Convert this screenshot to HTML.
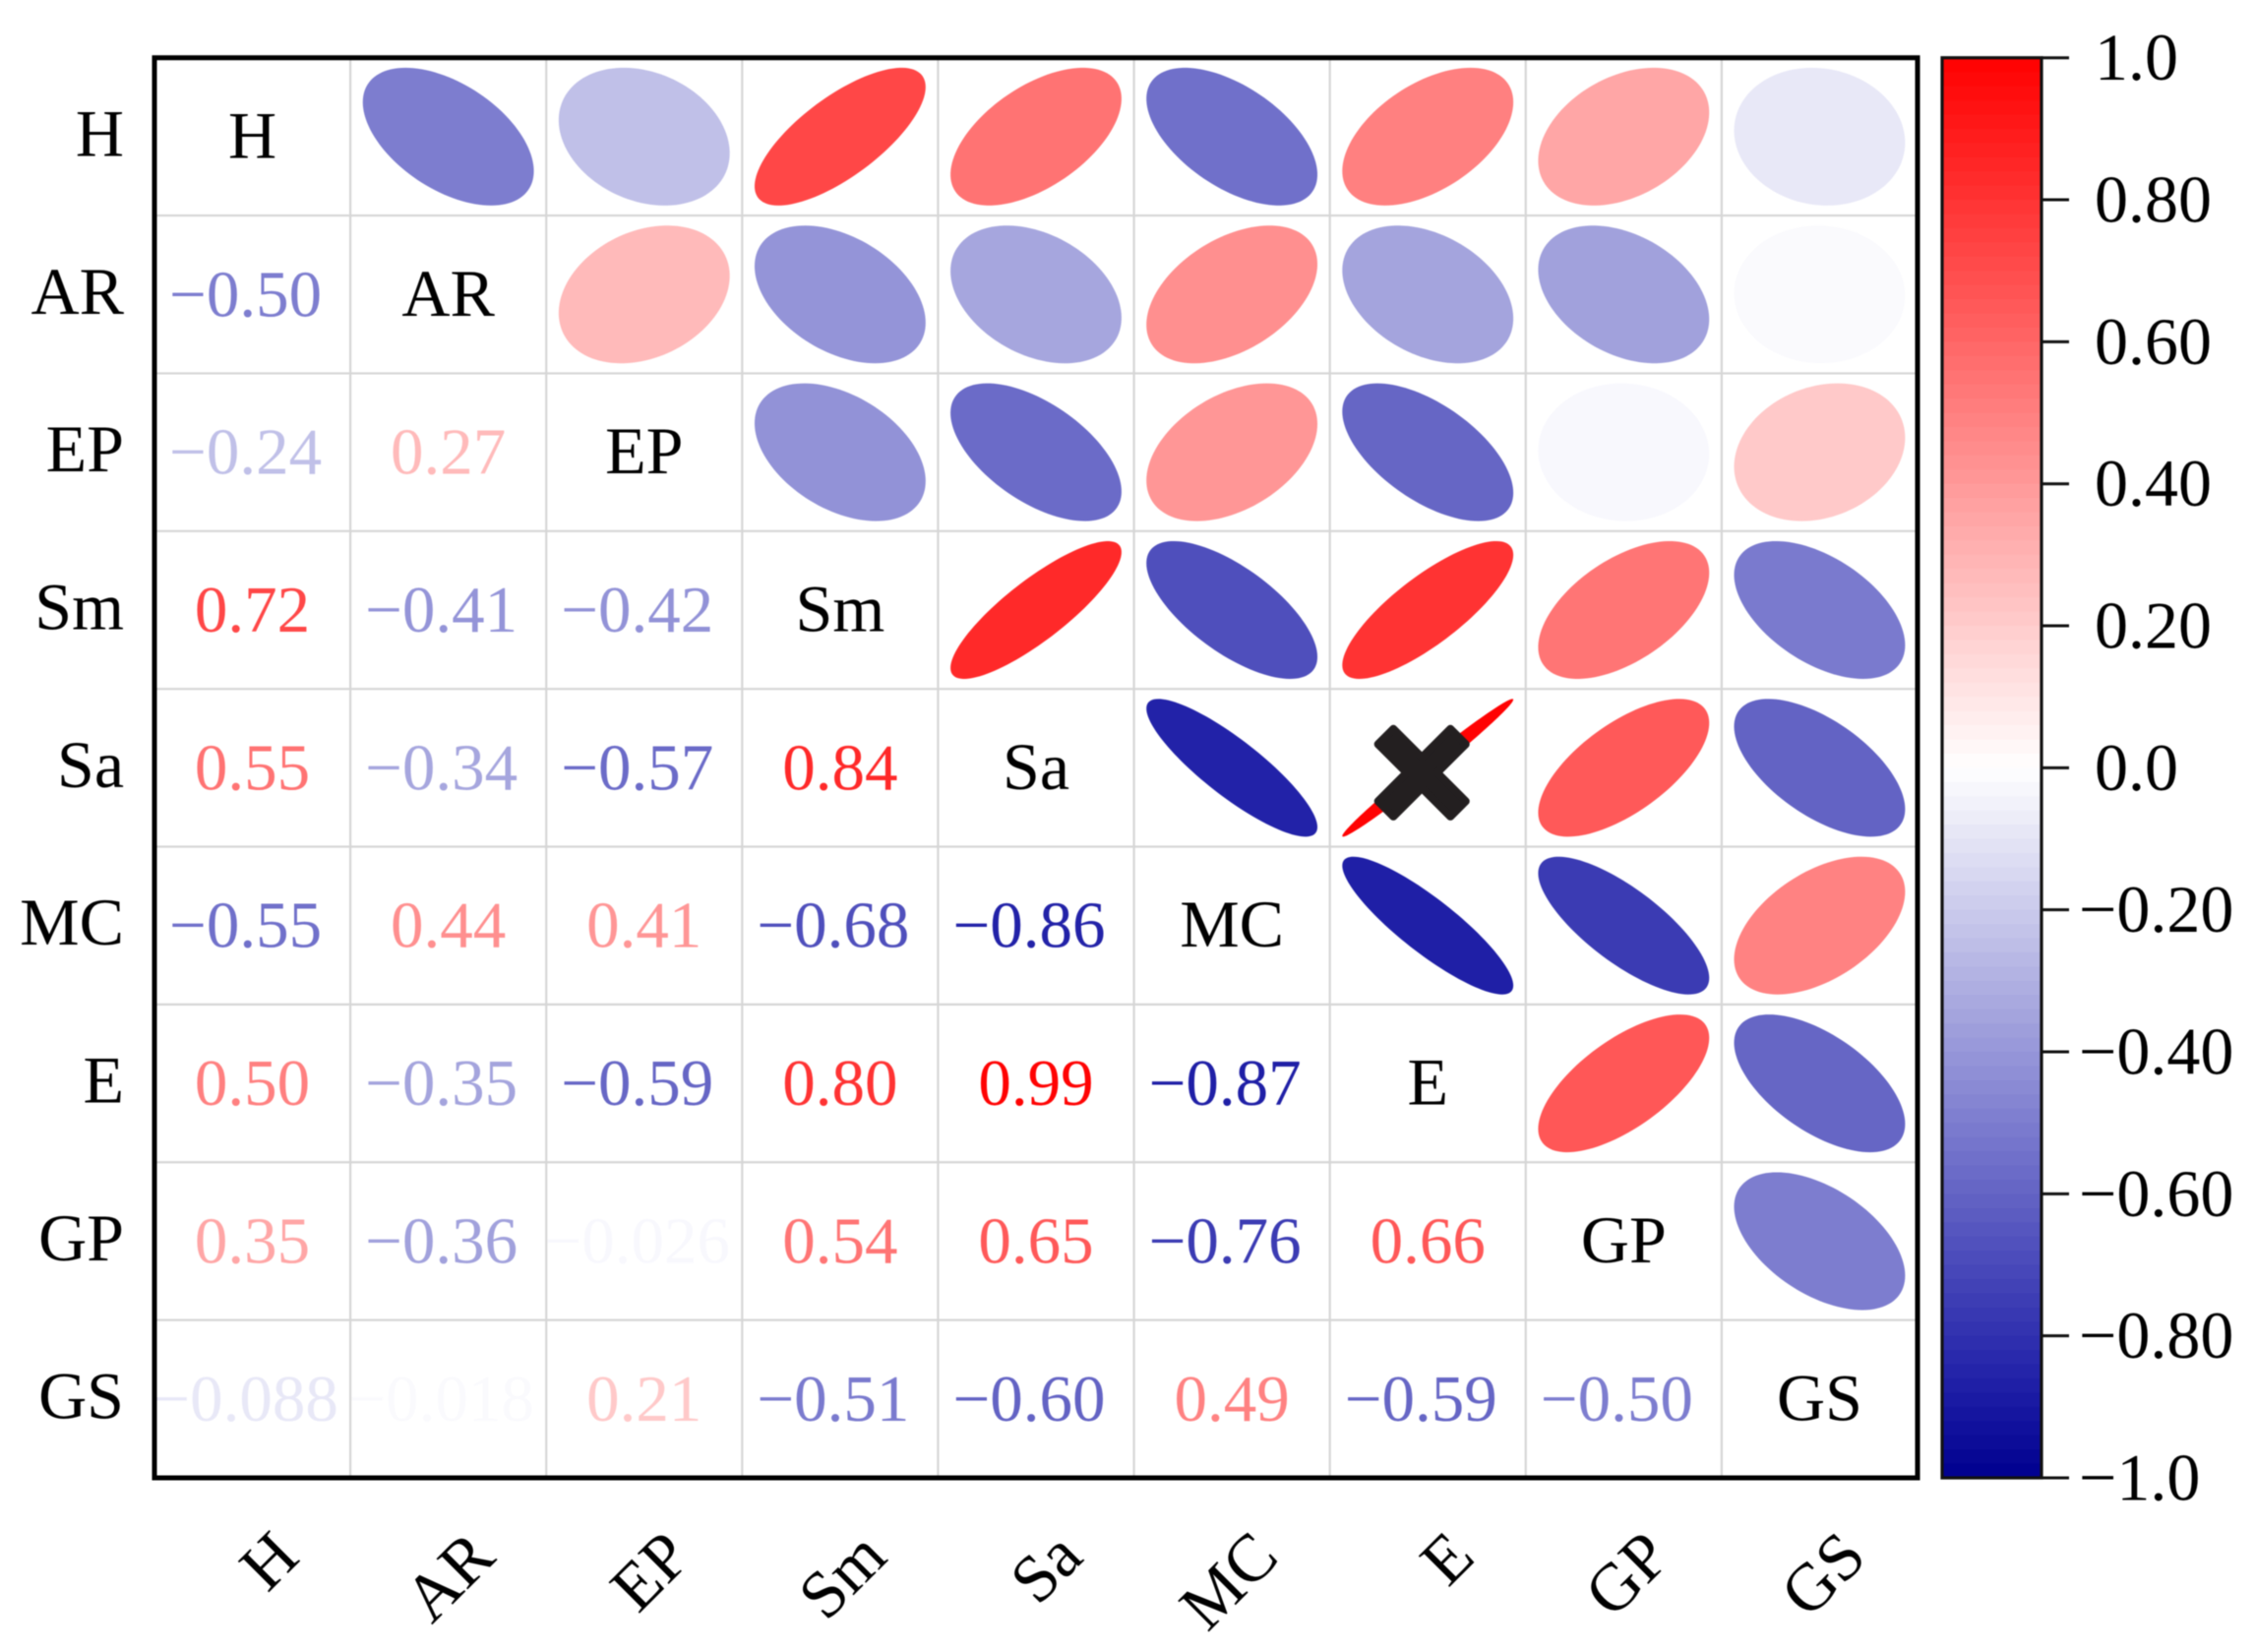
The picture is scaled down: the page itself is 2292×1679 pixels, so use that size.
<!DOCTYPE html>
<html lang="en">
<head>
<meta charset="utf-8">
<title>Correlation matrix</title>
<style>
html,body{margin:0;padding:0;background:#fff;width:2292px;height:1679px;overflow:hidden}
svg{display:block;filter:blur(0.5px)}
text{font-family:"Liberation Serif","Times New Roman",serif;font-size:68px}
</style>
</head>
<body>
<svg id="chart" xmlns="http://www.w3.org/2000/svg" width="2292" height="1679" viewBox="0 0 2292 1679"></svg>
<script>
// ---- data ----
const variables = ['H','AR','EP','Sm','Sa','MC','E','GP','GS'];
const rowAR = [-0.50];
const rowEP = [-0.24, 0.27];
const rowSm = [0.72, -0.41, -0.42];
const rowSa = [0.55, -0.34, -0.57, 0.84];
const rowMC = [-0.55, 0.44, 0.41, -0.68, -0.86];
const rowE  = [0.50, -0.35, -0.59, 0.80, 0.99, -0.87];
const rowGP = [0.35, -0.36, -0.026, 0.54, 0.65, -0.76, 0.66];
const rowGS = [-0.088, -0.018, 0.21, -0.51, -0.60, 0.49, -0.59, -0.50];
const lowerTriangle = [[], rowAR, rowEP, rowSm, rowSa, rowMC, rowE, rowGP, rowGS];
const colorbarTicks = [1.0, 0.8, 0.6, 0.4, 0.2, 0.0, -0.2, -0.4, -0.6, -0.8, -1.0];
const colorbarTickLabels = ['1.0','0.80','0.60','0.40','0.20','0.0','\u22120.20','\u22120.40','\u22120.60','\u22120.80','\u22121.0'];
const flaggedCell = {row: 'Sa', col: 'E'};

// ---- layout ----
const NS = 'http://www.w3.org/2000/svg';
const svg = document.getElementById('chart');
const plotL = 157, plotR = 1949, plotT = 58.7, plotB = 1502;
const cbL = 1974, cbR = 2075;
const n = variables.length;
const cw = (plotR - plotL) / n, ch = (plotB - plotT) / n;
const xAt = i => plotL + cw * i;
const yAt = i => plotT + ch * i;
const cbY = v => plotT + (1 - v) / 2 * (plotB - plotT);

function make(tag, attrs, parent) {
  const e = document.createElementNS(NS, tag);
  for (const k in attrs) e.setAttribute(k, attrs[k]);
  (parent || svg).appendChild(e);
  return e;
}
function lerp(a, b, t) { return a + (b - a) * t; }
const blueStops = [[-1, 143], [-0.86, 168], [-0.8, 175], [-0.5, 207], [0, 255]];
function colorOf(v) {
  v = Math.max(-1, Math.min(1, v));
  if (v >= 0) {
    const g = Math.round(255 * (1 - v));
    return `rgb(255,${g},${g})`;
  }
  const rg = Math.round(255 * Math.pow(1 + v, 1.03));
  let b = 255;
  for (let i = 0; i < blueStops.length - 1; i++) {
    const [a0, c0] = blueStops[i], [a1, c1] = blueStops[i + 1];
    if (v >= a0 && v <= a1) b = lerp(c0, c1, (v - a0) / (a1 - a0));
  }
  return `rgb(${rg},${rg},${Math.round(b)})`;
}
function valueAt(r, c) {
  if (r === c) return null;
  return r > c ? lowerTriangle[r][c] : lowerTriangle[c][r];
}
function formatValue(v) {
  const s = Math.abs(v) < 0.1 ? Math.abs(v).toFixed(3) : Math.abs(v).toFixed(2);
  return (v < 0 ? '\u2212' : '') + s;
}
function ellipsePath(cx, cy, rx, ry, r) {
  const d = Math.acos(Math.max(-1, Math.min(1, r)));
  let p = '';
  for (let k = 0; k < 120; k++) {
    const t = k / 120 * 2 * Math.PI;
    const x = cx + rx * Math.cos(t + d / 2);
    const y = cy - ry * Math.cos(t - d / 2);
    p += (k ? 'L' : 'M') + x.toFixed(2) + ' ' + y.toFixed(2);
  }
  return p + 'Z';
}

// ---- background ----
const bg = make('rect', {x: 0, y: 0, width: 2292, height: 1679, fill: '#ffffff'});



// ---- grid ----
for (let i = 1; i < n; i++) {
  const vl = make('line', {x1: xAt(i), x2: xAt(i), y1: plotT, y2: plotB, stroke: '#d6d6d6', 'stroke-width': 2.2});
  
  
  const hl = make('line', {x1: plotL, x2: plotR, y1: yAt(i), y2: yAt(i), stroke: '#d6d6d6', 'stroke-width': 2.2});
  
  
}

// ---- cells ----
for (let r = 0; r < n; r++) {
  for (let c = 0; c < n; c++) {
    const cx = xAt(c) + cw / 2, cy = yAt(r) + ch / 2;
    const v = valueAt(r, c);
    if (r === c) {
      const t = make('text', {x: cx, y: cy + 21.5, 'text-anchor': 'middle', fill: '#000'});
      t.textContent = variables[r];
      
      
    } else if (r > c) {
      const t = make('text', {x: cx + (v < 0 ? -7 : 0), y: cy + 22, 'text-anchor': 'middle', fill: colorOf(v), style: 'font-size:67px'});
      t.textContent = formatValue(v);
      
      
    } else {
      const p = make('path', {d: ellipsePath(cx, cy, cw * 0.873 / 2, ch * 0.873 / 2, v), fill: colorOf(v)});
      
      
    }
  }
}

// ---- flagged X mark ----
{
  const col = variables.indexOf(flaggedCell.col), row = variables.indexOf(flaggedCell.row);
  const mx = xAt(col) + cw / 2 - 6, my = yAt(row) + ch / 2 + 5;
  const a = 11, L = 52, s = Math.SQRT1_2;
  const pts = [[a, a + 0], [L, a], [L, -a], [a, -a], [a, -L], [-a, -L], [-a, -a], [-L, -a], [-L, a], [-a, a], [-a, L], [a, L]];
  const poly = pts.map(([u, w]) => ((u - w) * s + mx).toFixed(2) + ',' + ((u + w) * s + my).toFixed(2)).join(' ');
  const xm = make('polygon', {points: poly, fill: '#231f20', stroke: '#231f20', 'stroke-width': 8, 'stroke-linejoin': 'round'});
  
  
}

// ---- frame ----
const frame = make('rect', {x: plotL, y: plotT, width: plotR - plotL, height: plotB - plotT, fill: 'none', stroke: '#000', 'stroke-width': 5});



// ---- axis labels ----
for (let i = 0; i < n; i++) {
  const yl = make('text', {x: 126, y: yAt(i) + ch / 2 + 19.5, 'text-anchor': 'end', fill: '#000'});
  yl.textContent = variables[i];
  
  
  const ax = xAt(i) + cw / 2 + 50, ay = 1585;
  const xl = make('text', {x: ax, y: ay, 'text-anchor': 'end', fill: '#000', transform: `rotate(-45 ${ax} ${ay})`});
  xl.textContent = variables[i];
  
  
}

// ---- colorbar ----
const levels = 100;
for (let i = 0; i < levels; i++) {
  const vTop = 1 - 2 * i / levels;
  const vMid = vTop - 1 / levels;
  const band = make('rect', {x: cbL, y: cbY(vTop), width: cbR - cbL, height: (plotB - plotT) / levels + 0.6, fill: colorOf(vMid)});
  
  
}
const cbFrame = make('rect', {x: cbL, y: plotT, width: cbR - cbL, height: plotB - plotT, fill: 'none', stroke: '#111', 'stroke-width': 3.2});


colorbarTicks.forEach((v, i) => {
  const y = cbY(v);
  const tk = make('line', {x1: cbR, x2: 2103, y1: y, y2: y, stroke: '#111', 'stroke-width': 3});
  
  
  const lb = make('text', {x: v < 0 ? 2113 : 2129, y: y + 22.5, fill: '#000'});
  lb.textContent = colorbarTickLabels[i];
  
  
});
</script>
</body>
</html>
